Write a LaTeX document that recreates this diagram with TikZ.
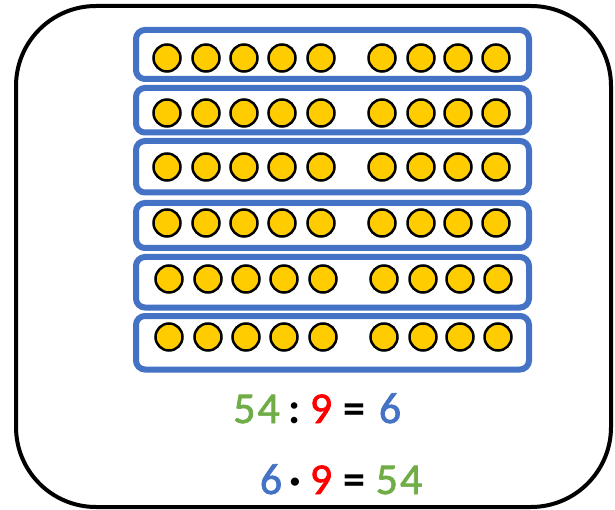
\documentclass[tikz,border=0pt]{standalone}
\usepackage{fontspec}
\setmainfont{Carlito}
\newfontfamily\digfont[FakeBold=1.6]{Carlito}
\definecolor{bl}{HTML}{4472C4}
\definecolor{gr}{HTML}{70AD47}
\definecolor{rd}{HTML}{FF0000}
\definecolor{gold}{HTML}{FFCC00}
\begin{document}
\begin{tikzpicture}[x=1pt,y=-1pt,
  frame/.style={draw=black,line width=4pt,rounded corners=80pt},
  rowbox/.style={draw=bl,line width=6pt,rounded corners=9pt,fill=white},
  dot/.style={circle,draw=black,fill=gold,line width=2.5pt,minimum size=27pt,inner sep=0pt},
  num/.style={font=\fontsize{44}{44}\selectfont\digfont\bfseries,anchor=base,inner sep=0pt},
  op/.style={font=\fontsize{44}{44}\selectfont\bfseries,anchor=base,inner sep=0pt,text=black}]
\useasboundingbox (0,0) rectangle (615,510);
\draw[frame] (16,6) rectangle (611,507);
\foreach \r/\cy/\top/\bot/\xs in {1/58/30/79/0, 2/113/88/132.5/0, 3/167/141/192.5/0, 4/223/203/248/0, 5/279/257/307.5/2, 6/337/316/369.5/2}{
  \draw[rowbox] (136,\top) rectangle (529,\bot);
  \foreach \i/\cx in {1/167,2/206,3/244,4/282,5/321,6/382,7/421,8/458,9/496}{
    \node[dot] (d\r-\i) at (\cx+\xs,\cy) {};
  }
}
% first line
\node[num,text=gr] (a1) at (256.5,423) {\mdseries 5\kern2pt 4};
\node[op] (a2) at (295,423) {:};
\node[num,text=rd] (a3) at (321,423) {\mdseries 9};
\node[op] (a4) at (354,423) {=};
\node[num,text=bl] (a5) at (390,423) {\mdseries 6};
% second line
\node[num,text=bl] (b1) at (271,494) {\mdseries 6};
\node[op] (b2) at (295,494) {·};
\node[num,text=rd] (b3) at (321,494) {\mdseries 9};
\node[op] (b4) at (354,494) {=};
\node[num,text=gr] (b5) at (399,494) {\mdseries 5\kern2pt 4};
\end{tikzpicture}
\end{document}
